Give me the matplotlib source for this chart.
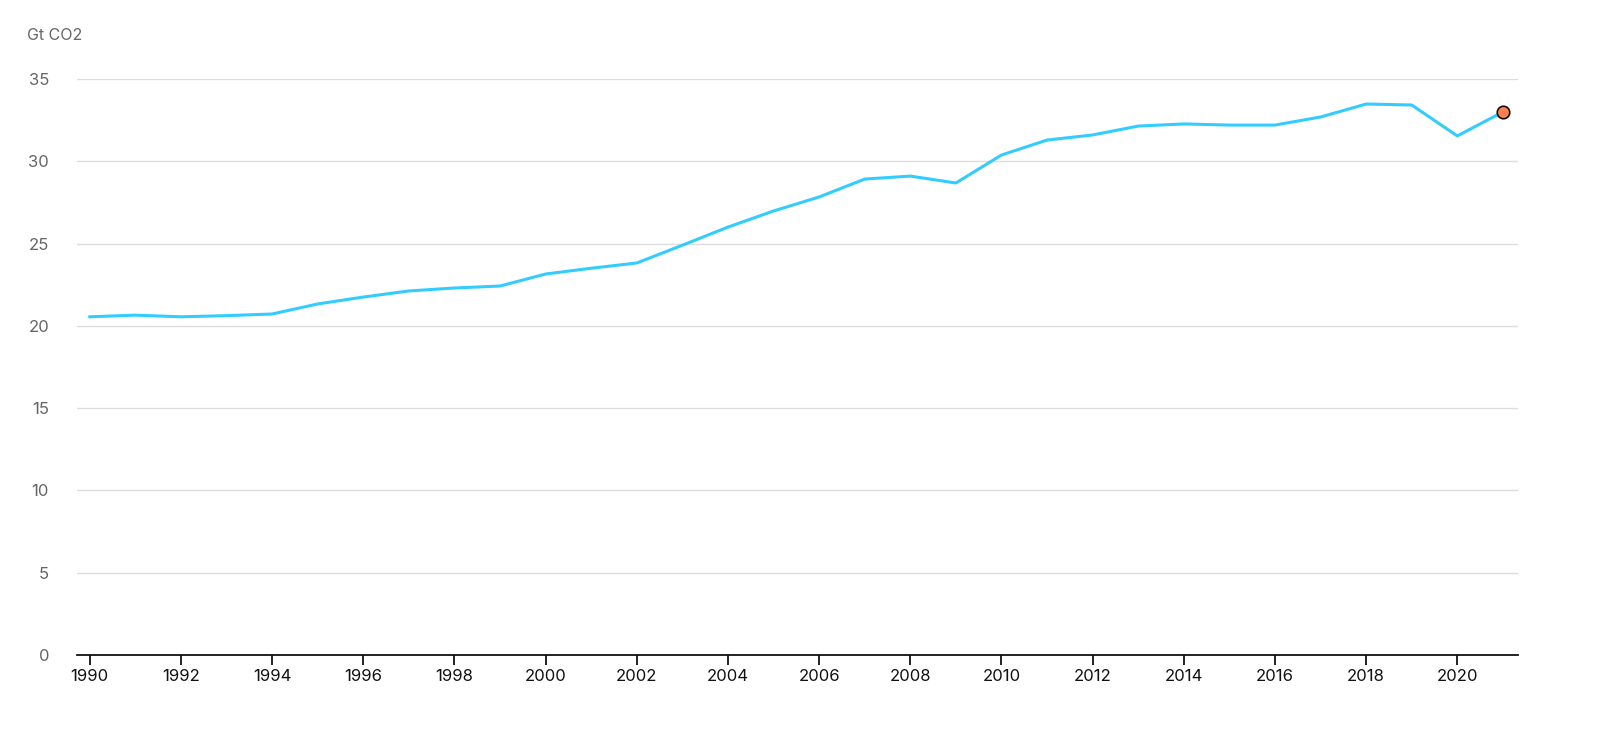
import numpy as np
import matplotlib.pyplot as plt

plt.rcParams['font.family'] = ['Inter', 'DejaVu Sans']

years = list(range(1990, 2022))
emissions = [20.55, 20.65, 20.55, 20.62, 20.72, 21.33, 21.75, 22.12, 22.3, 22.42,
             23.15, 23.5, 23.82, 24.9, 26.0, 26.98, 27.83, 28.92, 29.1, 28.68,
             30.38, 31.29, 31.6, 32.14, 32.27, 32.2, 32.2, 32.69, 33.48, 33.42,
             31.54, 33.0]
y_ticks = [0, 5, 10, 15, 20, 25, 30, 35]
x_ticks = list(range(1990, 2021, 2))

fig = plt.figure(figsize=(16, 7.37), dpi=100)
ax = fig.add_axes([0.048, 0.1113, 0.901, 0.7815])

ax.plot(years, emissions, color='#33ccff', linewidth=2.2, zorder=3)
ax.plot(years[-1], emissions[-1], 'o', color='#ff7f50', markeredgecolor='#111111',
        markersize=9, markeredgewidth=1.2, zorder=4)

ax.set_xlim(1989.715, 2021.34)
ax.set_ylim(0, 35)
ax.set_yticks(y_ticks)
ax.set_xticks(x_ticks)
ax.grid(axis='y', color='#dddddd', linewidth=1)
ax.set_axisbelow(True)

for side in ['top', 'right', 'left']:
    ax.spines[side].set_visible(False)
ax.spines['bottom'].set_color('#111111')
ax.spines['bottom'].set_linewidth(1.3)

ax.tick_params(axis='y', length=0, pad=20, labelsize=12, labelcolor='#666666')
ax.tick_params(axis='x', length=7, width=1.3, color='#111111', pad=3,
               labelsize=12, labelcolor='#111111')

fig.text(0.017, 0.952, 'Gt CO2', fontsize=11.5, color='#666666', va='center')

fig.savefig('out.png', dpi=100)
